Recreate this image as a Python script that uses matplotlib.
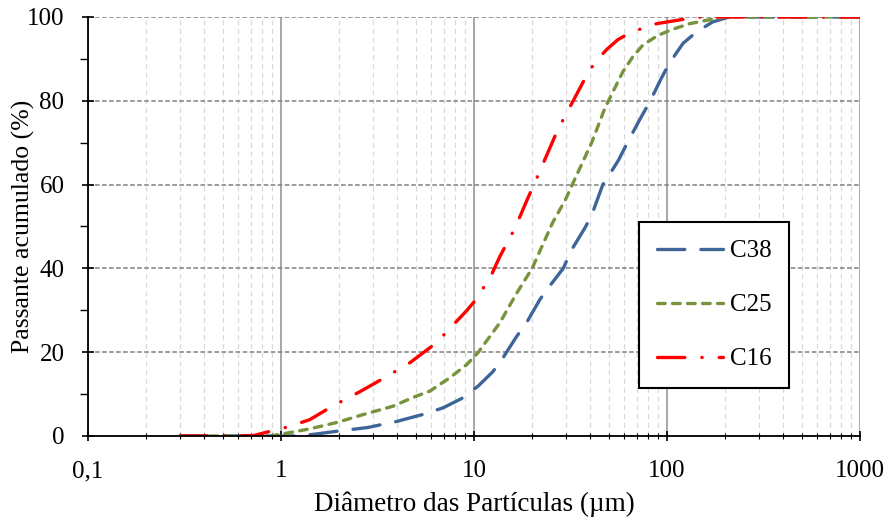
import matplotlib.pyplot as plt
from matplotlib.ticker import FixedLocator, LogLocator, NullFormatter

plt.rcParams['font.family'] = ['Liberation Serif', 'DejaVu Serif']

# diametro (um) e passante acumulado (%)
x_c38 = [0.3, 0.5, 0.8, 1.25, 1.6, 2.0, 2.8, 4.0, 5.4, 6.9, 8.6, 10.5, 12.5,
         14.1, 16.6, 18.7, 21.9, 24.2, 29, 32, 37.5, 40.7, 46.5, 51, 56, 64,
         72, 81.5, 93.5, 103, 121, 142, 172, 210, 400, 1000]
y_c38 = [0, 0, 0, 0, 0.6, 1.2, 2.0, 3.5, 5.1, 6.7, 8.9, 11.9, 15.3, 18.6, 23.7,
         27, 32.5, 35.3, 40, 44.4, 49.6, 52.7, 60, 62.8, 65.8, 71, 75.4, 79.8,
         85.4, 89, 93.7, 96.4, 98.8, 100, 100, 100]

x_c25 = [0.3, 0.5, 0.88, 1.11, 1.41, 1.94, 2.66, 3.8, 4.83, 5.9, 7.5, 9.15,
         10.5, 13.6, 16.6, 20, 25.6, 29.7, 32.6, 40.7, 47.7, 52.4, 59, 66.5,
         75, 89.7, 106, 131, 160, 200, 400, 1000]
y_c25 = [0, 0, 0, 0.8, 1.7, 3.2, 5.1, 7.1, 9.2, 10.7, 13.9, 17, 19.9, 27, 34,
         40, 51, 56.3, 60.4, 70, 78.3, 82.1, 86.9, 90.5, 93.3, 95.6, 97, 98.4,
         99.2, 100, 100, 100]

x_c16 = [0.3, 0.5, 0.72, 0.877, 1.0, 1.18, 1.41, 1.86, 2.19, 2.57, 3.38, 3.97,
         4.66, 6.04, 6.9, 7.8, 9.2, 10, 12.1, 13.6, 16.3, 18.7, 21.5, 26.3,
         28.6, 36.3, 39.8, 45, 48.6, 55.7, 65.5, 88.2, 106, 128, 150, 400, 1000]
y_c16 = [0, 0, 0.1, 1.1, 1.7, 2.7, 3.9, 7.2, 8.9, 10.6, 13.7, 15.6, 17.5, 21.4,
         23.9, 26.5, 30, 32, 37.7, 42.8, 49.6, 56, 62.3, 71.6, 75, 84, 87.4,
         90.5, 92.2, 94.6, 96.4, 98.4, 99, 99.6, 100, 100, 100]

fig = plt.figure(figsize=(8.9, 5.24), dpi=100)
ax = fig.add_axes([0.0989, 0.168, 0.8674, 0.7996])

lw = 2.4
ax.plot(x_c38, y_c38, color='#3F6598', lw=lw, ls=(0, (8.2, 4.8)),
        dash_capstyle='round', label='C38', zorder=5)
ax.plot(x_c25, y_c25, color='#77933C', lw=lw, ls=(0, (2.3, 2.2)),
        dash_capstyle='round', label='C25', zorder=5)
ax.plot(x_c16, y_c16, color='#FF0000', lw=lw, ls=(0, (8.2, 5.1, 0.1, 5.1)),
        dash_capstyle='round', label='C16', zorder=5)

ax.set_xscale('log')
ax.set_xlim(0.1, 1000)
ax.set_ylim(0, 100)

ax.xaxis.set_major_locator(FixedLocator([0.1, 1, 10, 100, 1000]))
ax.set_xticklabels(['0,1', '1', '10', '100', '1000'])
ax.xaxis.set_minor_locator(LogLocator(base=10, subs=range(2, 10)))
ax.xaxis.set_minor_formatter(NullFormatter())
ax.set_yticks([0, 20, 40, 60, 80, 100])
ax.set_yticks([10, 30, 50, 70, 90], minor=True)

ax.tick_params(axis='both', which='major', labelsize=18, direction='inout',
               length=8, width=1.2, color='black')
ax.tick_params(axis='x', which='major', pad=14, length=7)
ax.tick_params(axis='y', which='major', pad=13)
ax.tick_params(axis='x', which='minor', direction='inout', length=4, width=0.8)
ax.tick_params(axis='y', which='minor', direction='out', length=6, width=1.0)

ax.grid(True, axis='x', which='minor', color='#D9D9D9', ls=(0, (4, 3)), lw=0.9)
ax.grid(True, axis='x', which='major', color='#A0A0A0', ls='-', lw=1.3)
ax.grid(True, axis='y', which='major', color='#808080', ls=(0, (3, 1.6)), lw=1.1)
ax.set_axisbelow(True)

for s in ['top', 'right']:
    ax.spines[s].set_visible(False)
for s in ['left', 'bottom']:
    ax.spines[s].set_linewidth(1.3)
    ax.spines[s].set_zorder(6)

ax.set_xlabel('Diâmetro das Partículas (µm)', fontsize=19.5, labelpad=7)
ax.set_ylabel('Passante acumulado (%)', fontsize=18.5)
ax.yaxis.set_label_coords(-0.069, 0.5)

leg = ax.legend(loc='upper left', bbox_to_anchor=(0.714, 0.511), fontsize=18,
                handlelength=2.65, handletextpad=0.25, labelspacing=1.26,
                borderpad=0.72, borderaxespad=0, fancybox=False, framealpha=1)
leg.get_frame().set_edgecolor('black')
leg.get_frame().set_linewidth(1.5)
leg.set_zorder(10)

fig.savefig('out.png', dpi=100)
